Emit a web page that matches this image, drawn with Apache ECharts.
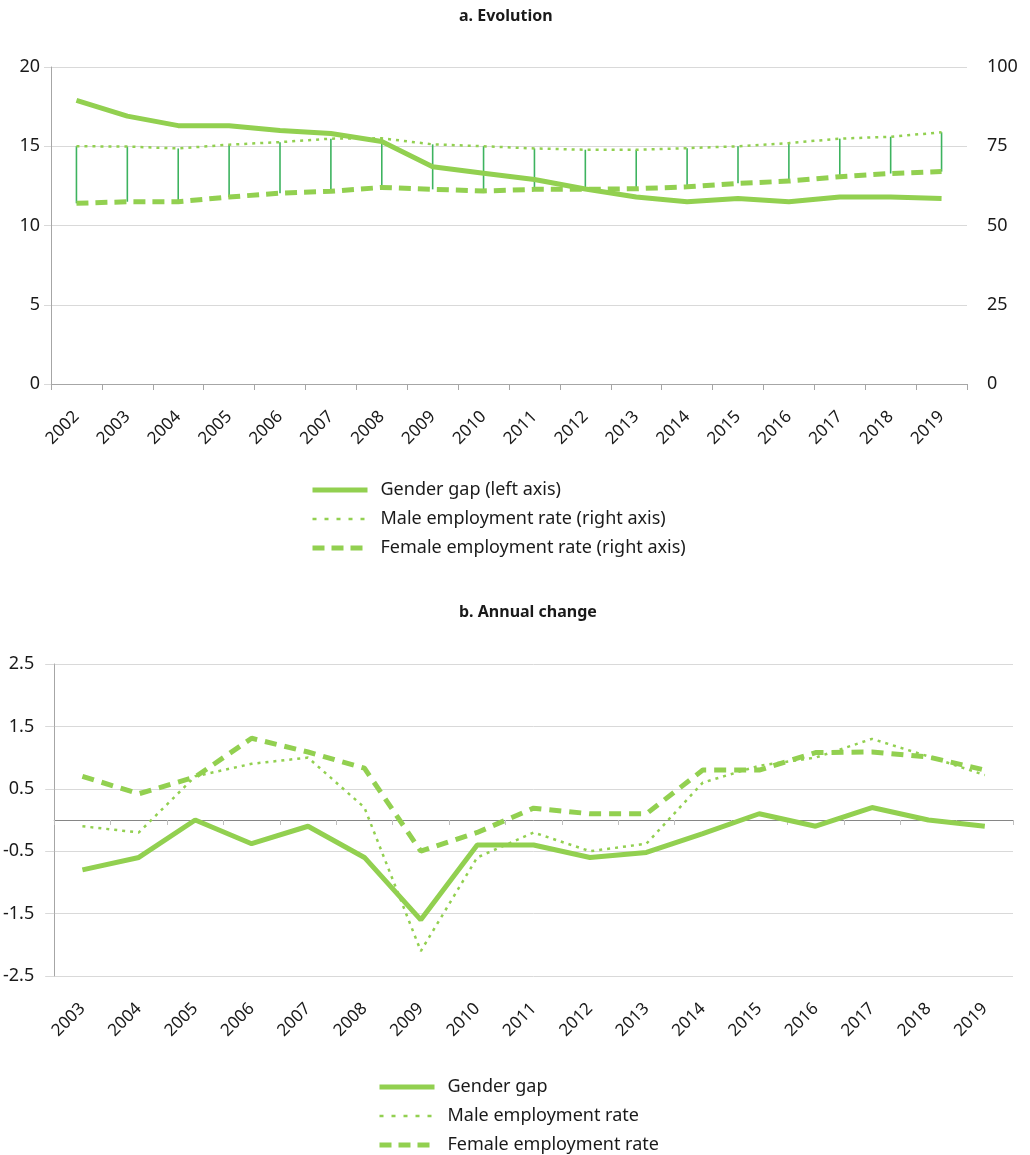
<!DOCTYPE html>
<html>
<head>
<meta charset="utf-8">
<script src="https://cdn.jsdelivr.net/npm/echarts@6/dist/echarts.min.js"></script>
<style>
html,body{margin:0;padding:0;background:#fff}
#chart{width:1030px;height:1155px}
</style>
</head>
<body>
<div id="chart"></div>
<script>
// a. Evolution
var years_a = ['2002','2003','2004','2005','2006','2007','2008','2009','2010','2011','2012','2013','2014','2015','2016','2017','2018','2019'];
var gap_a = [17.9,16.9,16.3,16.3,16.0,15.8,15.3,13.7,13.3,12.9,12.3,11.8,11.5,11.7,11.5,11.8,11.8,11.7];
var male_a = [75.0,74.9,74.3,75.5,76.3,77.4,77.5,75.6,75.0,74.3,73.9,73.9,74.4,75.0,76.0,77.4,78.0,79.4];
var female_a = [57.0,57.5,57.5,59.0,60.2,60.8,62.0,61.4,60.9,61.4,61.4,61.6,62.2,63.3,64.0,65.4,66.4,67.0];

// b. Annual change
var years_b = ['2003','2004','2005','2006','2007','2008','2009','2010','2011','2012','2013','2014','2015','2016','2017','2018','2019'];
var gap_b = [-0.8,-0.6,0.0,-0.38,-0.1,-0.6,-1.6,-0.4,-0.4,-0.6,-0.52,-0.22,0.1,-0.1,0.2,0.0,-0.1];
var male_b = [-0.1,-0.2,0.7,0.9,1.0,0.2,-2.1,-0.6,-0.2,-0.5,-0.38,0.6,0.87,1.0,1.3,1.02,0.72];
var female_b = [0.7,0.42,0.69,1.31,1.09,0.83,-0.5,-0.2,0.19,0.1,0.1,0.8,0.8,1.08,1.09,1.01,0.8];

var green = '#92D050';
var stick = '#3DB35F';
var font = 'Noto Sans';
var ink = '#1a1a1a';

// line looks shared by series and legend icons
var solid_style = {color:green, width:5};
var dot_style = {color:green, width:2.5, type:[3,5]};
var dash_style = {color:green, width:5, type:[12,7]};

var chart_page = {

	init : function(id){
		var myChart = echarts.init(document.getElementById(id), null, {renderer:'canvas'});
		myChart.setOption(chart_page.options());
	},

	legend : function(left, top, names){
		var styles = [solid_style, {color:green, width:2.5, type:[4,8]}, dash_style];
		var data = [];
		for (var i = 0; i < names.length; i++) {
			data.push({name:names[i], lineStyle:styles[i]});
		}
		return {
			left:left, top:top, orient:'vertical', padding:0,
			itemWidth:55, itemHeight:14, itemGap:11,
			itemStyle:{opacity:0},
			textStyle:{fontFamily:font, fontSize:18, lineHeight:18, color:ink, padding:[0,0,0,8]},
			data:data
		};
	},

	options : function(){
		var highlow = [];
		for (var i = 0; i < years_a.length; i++) {
			highlow.push([years_a[i], male_a[i], female_a[i]]);
		}
		var axisGrey = {color:'#a6a6a6', width:1};
		var option = {
			backgroundColor:'#fff',
			textStyle:{fontFamily:font, color:ink},
			animation:false,
			title:[
				{text:'a. Evolution', left:459, top:8, padding:0,
				 textStyle:{fontFamily:font, fontSize:16, fontWeight:'bold', color:ink}},
				{text:'b. Annual change', left:459, top:604, padding:0,
				 textStyle:{fontFamily:font, fontSize:16, fontWeight:'bold', color:ink}}
			],
			legend:[
				chart_page.legend(310, 481, ['Gender gap (left axis)','Male employment rate (right axis)','Female employment rate (right axis)']),
				chart_page.legend(377, 1078, ['Gender gap','Male employment rate','Female employment rate'])
			],
			grid:[
				{left:51, top:67, width:916, height:317},
				{left:53, top:664, width:960, height:312}
			],
			xAxis:[
				{
					gridIndex:0, type:'category', data:years_a, boundaryGap:true,
					axisLine:{show:true, lineStyle:axisGrey},
					axisTick:{show:true, length:6, lineStyle:axisGrey},
					axisLabel:{rotate:45, margin:30, fontSize:17, color:ink, interval:0},
					splitLine:{show:false}
				},
				{
					gridIndex:1, type:'category', data:years_b, position:'bottom',
					axisLine:{show:false, onZero:false},
					axisTick:{show:false},
					axisLabel:{rotate:45, margin:30, fontSize:17, color:ink, interval:0},
					splitLine:{show:false}
				},
				{
					gridIndex:1, type:'category', data:years_b, position:'bottom',
					axisLine:{show:true, onZero:true, lineStyle:{color:'#868686', width:1}},
					axisTick:{show:true, length:5, lineStyle:{color:'#bfbfbf'}},
					axisLabel:{show:false},
					splitLine:{show:false}
				}
			],
			yAxis:[
				{
					gridIndex:0, type:'value', min:0, max:20, interval:5, position:'left',
					axisLine:{show:true, lineStyle:axisGrey},
					axisTick:{show:true, length:7, lineStyle:{color:'#d9d9d9'}},
					axisLabel:{margin:11, fontSize:18, color:ink},
					splitLine:{show:true, lineStyle:{color:'#d9d9d9', width:1}}
				},
				{
					gridIndex:0, type:'value', min:0, max:100, interval:25, position:'right',
					axisLine:{show:false}, axisTick:{show:false},
					axisLabel:{margin:20, fontSize:18, color:ink},
					splitLine:{show:false}
				},
				{
					gridIndex:1, type:'value', min:-2.5, max:2.5, interval:1,
					axisLine:{show:true, lineStyle:axisGrey},
					axisTick:{show:true, length:9, lineStyle:{color:'#d9d9d9'}},
					axisLabel:{margin:20, fontSize:18, color:ink},
					splitLine:{show:true, lineStyle:{color:'#d9d9d9', width:1}}
				}
			],
			series:[
				{
					name:'high-low', type:'custom', xAxisIndex:0, yAxisIndex:1, z:1,
					encode:{x:0, y:[1,2]},
					renderItem:function(params, api){
						var p1 = api.coord([api.value(0), api.value(1)]);
						var p2 = api.coord([api.value(0), api.value(2)]);
						return {type:'line', shape:{x1:p1[0], y1:p1[1], x2:p2[0], y2:p2[1]},
							style:{stroke:stick, lineWidth:1.6}};
					},
					data:highlow
				},
				{
					name:'Male employment rate (right axis)', type:'line', xAxisIndex:0, yAxisIndex:1,
					symbol:'none', z:3, color:green,
					lineStyle:dot_style,
					data:male_a
				},
				{
					name:'Female employment rate (right axis)', type:'line', xAxisIndex:0, yAxisIndex:1,
					symbol:'none', z:3, color:green,
					lineStyle:dash_style,
					data:female_a
				},
				{
					name:'Gender gap (left axis)', type:'line', xAxisIndex:0, yAxisIndex:0,
					symbol:'none', z:4, color:green,
					lineStyle:solid_style,
					data:gap_a
				},
				{
					name:'Gender gap', type:'line', xAxisIndex:1, yAxisIndex:2,
					symbol:'none', z:4, color:green,
					lineStyle:solid_style,
					data:gap_b
				},
				{
					name:'Male employment rate', type:'line', xAxisIndex:1, yAxisIndex:2,
					symbol:'none', z:3, color:green,
					lineStyle:dot_style,
					data:male_b
				},
				{
					name:'Female employment rate', type:'line', xAxisIndex:1, yAxisIndex:2,
					symbol:'none', z:3, color:green,
					lineStyle:{color:green, width:5, type:[12,8]},
					data:female_b
				}
			]
		};
		return option;
	}
};

chart_page.init('chart');
</script>
</body>
</html>
